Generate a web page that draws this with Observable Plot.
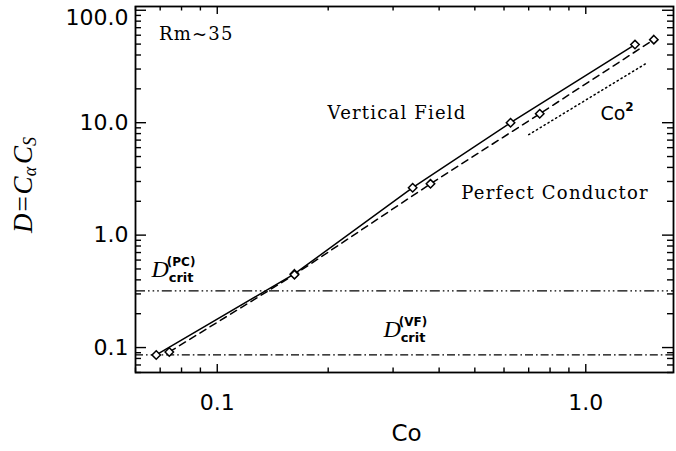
<!DOCTYPE html>
<html><head><meta charset="utf-8">
<script src="https://cdn.jsdelivr.net/npm/d3@7"></script>
<script src="https://cdn.jsdelivr.net/npm/@observablehq/plot@0.6"></script>
<style>body{margin:0;background:#fff;} #chart{width:676px;height:451px;}</style>
</head><body><div id="chart"></div>
<script>
// Vertical Field run (solid line)
const coVF = [0.0683, 0.162, 0.339, 0.625, 1.36];
const dVF  = [0.0859, 0.452, 2.64, 10.0, 49.5];
// Perfect Conductor run (dashed line)
const coPC = [0.0741, 0.162, 0.379, 0.750, 1.53];
const dPC  = [0.0914, 0.445, 2.86, 12.0, 54.8];
// Co^2 reference (dotted)
const coSq = [0.70, 1.47];
const dSq  = [7.82, 34.2];
// critical values
const dCritPC = 0.319;
const dCritVF = 0.086;
// tick labels
const xTicks = [0.1, 1.0];
const xTickLabels = ["0.1", "1.0"];
const yTicks = [0.1, 1, 10, 100];
const yTickLabels = ["0.1", "1.0", "10.0", "100.0"];

const W = 676, H = 451, mL = 135, mR = 3, mT = 6, mB = 79;
const pw = W - mL - mR, ph = H - mT - mB;
const xDom = [0.06, 1.73], yDom = [0.06, 108];
const inDom = (v, d) => v >= d[0] && v <= d[1];
const xMinor = [], yMinor = [];
for (const dec of [0.01, 0.1, 1]) for (let k = 2; k <= 9; k++) { const v = dec * k; if (inDom(v, xDom)) xMinor.push(v); }
for (const dec of [0.01, 0.1, 1, 10]) for (let k = 2; k <= 9; k++) { const v = dec * k; if (inDom(v, yDom)) yMinor.push(v); }

const vf = coVF.map((c, i) => ({co: c, d: dVF[i]}));
const pc = coPC.map((c, i) => ({co: c, d: dPC[i]}));
const sq = coSq.map((c, i) => ({co: c, d: dSq[i]}));

const tk = {stroke: "black", strokeWidth: 1.4};
const plot = Plot.plot({
  width: W, height: H,
  marginLeft: mL, marginRight: mR, marginTop: mT, marginBottom: mB,
  style: {fontFamily: "DejaVu Sans", background: "white", color: "black"},
  x: {type: "log", domain: xDom, axis: null},
  y: {type: "log", domain: yDom, axis: null},
  marks: [
    // ticks on all four sides, pointing inward
    Plot.ruleX(xTicks, {x: d => d, insetTop: ph - 8, ...tk}),
    Plot.ruleX(xTicks, {x: d => d, insetBottom: ph - 8, ...tk}),
    Plot.ruleX(xMinor, {x: d => d, insetTop: ph - 4.5, ...tk}),
    Plot.ruleX(xMinor, {x: d => d, insetBottom: ph - 4.5, ...tk}),
    Plot.ruleY(yTicks, {y: d => d, insetRight: pw - 11, ...tk}),
    Plot.ruleY(yTicks, {y: d => d, insetLeft: pw - 11, ...tk}),
    Plot.ruleY(yMinor, {y: d => d, insetRight: pw - 6, ...tk}),
    Plot.ruleY(yMinor, {y: d => d, insetLeft: pw - 6, ...tk}),
    // critical lines
    Plot.ruleY([dCritPC], {y: d => d, stroke: "black", strokeWidth: 1.4, strokeDasharray: "10,3,1.6,3,1.6,3,1.6,3"}),
    Plot.ruleY([dCritVF], {y: d => d, stroke: "black", strokeWidth: 1.4, strokeDasharray: "8,3,1.6,3"}),
    // data lines
    Plot.line(vf, {x: "co", y: "d", stroke: "black", strokeWidth: 1.5}),
    Plot.line(pc, {x: "co", y: "d", stroke: "black", strokeWidth: 1.5, strokeDasharray: "7,5"}),
    Plot.line(sq, {x: "co", y: "d", stroke: "black", strokeWidth: 1.5, strokeDasharray: "1.3,3.2"}),
    Plot.dot(vf, {x: "co", y: "d", symbol: "diamond2", r: 3.8, fill: "white", stroke: "black", strokeWidth: 1.5}),
    Plot.dot(pc, {x: "co", y: "d", symbol: "diamond2", r: 3.8, fill: "white", stroke: "black", strokeWidth: 1.5}),
    Plot.frame({stroke: "black", strokeWidth: 1.8}),
    // tick labels
    Plot.text(xTicks, {x: d => d, frameAnchor: "bottom", dy: 30, lineAnchor: "middle", text: (d, i) => xTickLabels[i], fontSize: 22, fill: "black", letterSpacing: 2}),
    Plot.text(yTicks, {y: d => d, frameAnchor: "left", dx: -7, textAnchor: "end", lineAnchor: "middle", text: (d, i) => yTickLabels[i], fontSize: 22, fill: "black"}),
    Plot.text(["Co"], {frameAnchor: "bottom", dy: 61, dx: 2, lineAnchor: "middle", text: d => d, fontSize: 23, fill: "black", letterSpacing: 2})
  ]
});
document.getElementById("chart").appendChild(plot);

const svg = d3.select(plot);
// keep the top tick label inside the picture, as in the reference
svg.selectAll("text").filter(function(){ return this.textContent === "100.0"; })
  .attr("transform", function(){ return (d3.select(this).attr("transform") || "") + " translate(0,8)"; });

const sx = plot.scale("x"), sy = plot.scale("y");
const X = v => sx.apply(v), Y = v => sy.apply(v);
const serif = "DejaVu Serif";

function label(txt, co, d, anchor) {
  svg.append("text").attr("x", X(co)).attr("y", Y(d))
    .attr("text-anchor", anchor).attr("dominant-baseline", "middle")
    .attr("font-family", serif).attr("font-size", 18).attr("letter-spacing", 1.2)
    .attr("fill", "black").text(txt);
}
label("Rm~35", 0.0697, 59.5, "start");
label("Vertical Field", 0.3085, 11.9, "middle");
label("Perfect Conductor", 0.828, 2.31, "middle");

// Co^2
const co2 = svg.append("text").attr("x", X(1.22)).attr("y", Y(11.9))
  .attr("text-anchor", "middle").attr("dominant-baseline", "middle")
  .attr("font-family", "DejaVu Sans").attr("font-size", 19).attr("fill", "black");
co2.append("tspan").text("Co");
co2.append("tspan").attr("dy", -7).attr("font-size", 12).attr("font-weight", "bold").text("2");

// D_crit labels
function dcrit(sup, co, d) {
  const x0 = X(co), y0 = Y(d);
  const t = svg.append("text").attr("x", x0).attr("y", y0).attr("fill", "black");
  t.append("tspan").attr("font-family", "Liberation Serif").attr("font-style", "italic")
    .attr("font-size", 24).text("D");
  t.append("tspan").attr("x", x0 + 21).attr("dy", -11)
    .attr("font-family", "DejaVu Sans").attr("font-weight", "bold").attr("font-size", 12).text(sup);
  t.append("tspan").attr("x", x0 + 21).attr("dy", 16)
    .attr("font-family", "DejaVu Sans").attr("font-weight", "bold").attr("font-size", 13).text("crit");
}
dcrit("(PC)", 0.0702, 0.417);
dcrit("(VF)", 0.299, 0.1218);

// y axis title
const yl = svg.append("text")
  .attr("transform", "translate(26,185) rotate(-90)")
  .attr("text-anchor", "middle").attr("dominant-baseline", "middle")
  .attr("font-family", "Liberation Serif").attr("font-size", 27).attr("fill", "black");
yl.append("tspan").attr("font-style", "italic").text("D");
yl.append("tspan").attr("dx", 2).text("=");
yl.append("tspan").attr("dx", 2).attr("font-style", "italic").text("C");
yl.append("tspan").attr("dy", 6).attr("font-size", 18).attr("font-style", "italic").text("α");
yl.append("tspan").attr("dy", -6).attr("dx", 3).attr("font-style", "italic").text("C");
yl.append("tspan").attr("dy", 6).attr("font-size", 18).attr("font-style", "italic").text("S");
</script></body></html>
